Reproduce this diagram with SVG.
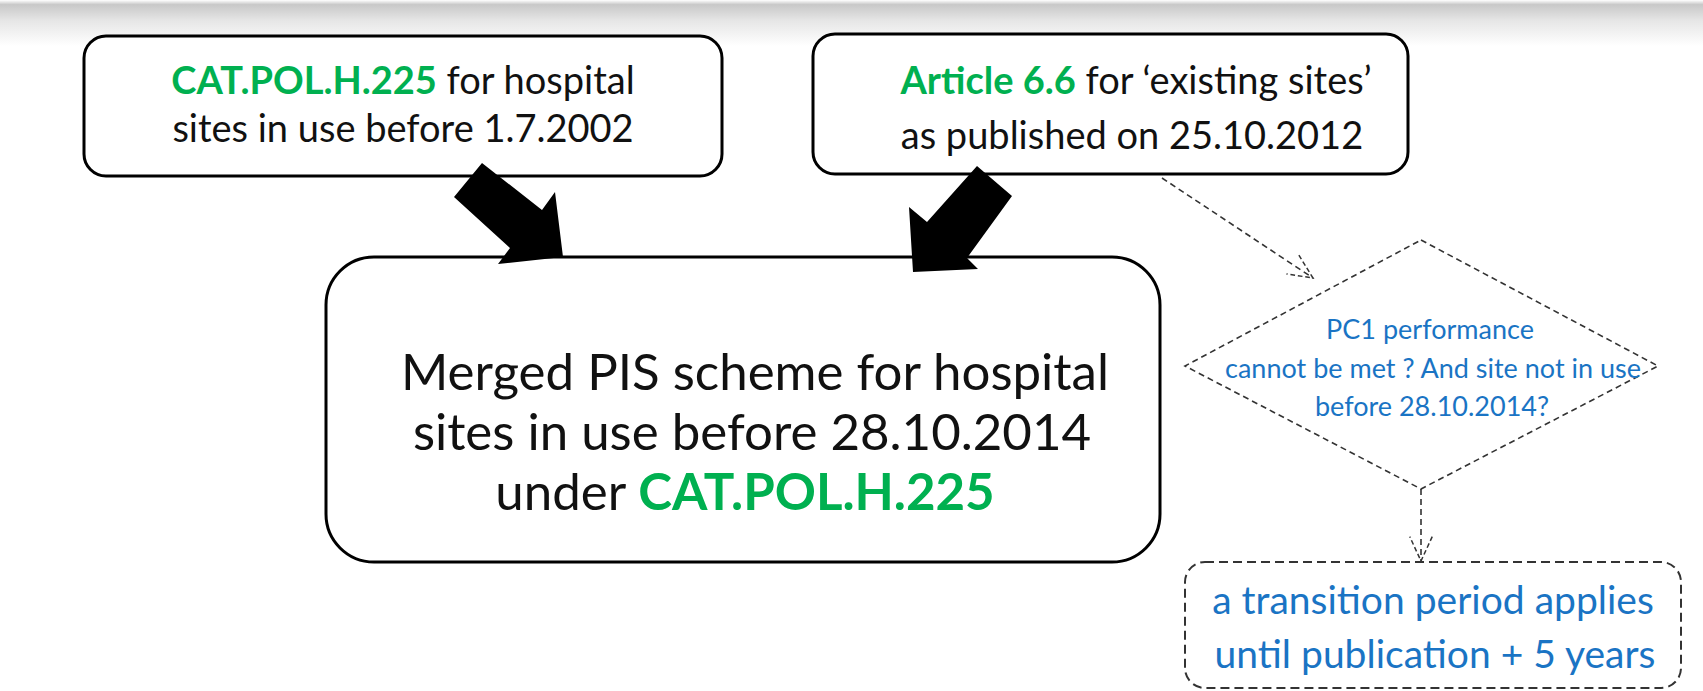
<svg xmlns="http://www.w3.org/2000/svg" width="1703" height="691" viewBox="0 0 1703 691">
<defs>
<linearGradient id="topband" x1="0" y1="0" x2="0" y2="1">
<stop offset="0" stop-color="#ffffff"/>
<stop offset="0.1" stop-color="#c8c8c8"/>
<stop offset="0.45" stop-color="#e6e6e6"/>
<stop offset="1" stop-color="#ffffff"/>
</linearGradient>
<marker id="openV" markerWidth="30" markerHeight="30" refX="0" refY="0" viewBox="-30 -15 32 30" orient="auto" markerUnits="userSpaceOnUse">
<path d="M-26,-12 L0,0 L-26,12" fill="none" stroke="#333" stroke-width="1.6" stroke-dasharray="5,3"/>
</marker>
<style>
.box{fill:#ffffff;stroke:#000;stroke-width:3}
.txt{font-family:Lato,'Open Sans',sans-serif;fill:#111;text-anchor:middle}
.g{fill:#00b050;font-weight:bold}
.blue{font-family:Lato,'Open Sans',sans-serif;fill:#1a74c4;text-anchor:middle}
.dash{fill:none;stroke:#333;stroke-width:1.6;stroke-dasharray:6,4}
.dashbox{fill:#ffffff;stroke:#333;stroke-width:2;stroke-dasharray:9,5}
.bigarrow{fill:#000}
</style>
</defs>
<rect x="0" y="0" width="1703" height="691" fill="#ffffff"/>
<rect x="0" y="0" width="1703" height="46" fill="url(#topband)"/>

<g id="node-cat">
<rect class="box" x="84" y="36" width="638" height="140" rx="22"/>
<text class="txt" x="403" y="94" font-size="38"><tspan class="g">CAT.POL.H.225</tspan> for hospital</text>
<text class="txt" x="403" y="142" font-size="38">sites in use before 1.7.2002</text>
</g>

<g id="node-article">
<rect class="box" x="813" y="34" width="595" height="140" rx="22"/>
<text class="txt" x="1136" y="94" font-size="38"><tspan class="g">Article 6.6</tspan> for ‘existing sites’</text>
<text class="txt" x="1132" y="149" font-size="38">as published on 25.10.2012</text>
</g>

<g id="node-merged">
<rect class="box" x="326" y="257" width="834" height="305" rx="48"/>
<text class="txt" x="755" y="390" font-size="51">Merged PIS scheme for hospital</text>
<text class="txt" x="752" y="450" font-size="51">sites in use before 28.10.2014</text>
<text class="txt" x="745" y="510" font-size="51">under <tspan class="g">CAT.POL.H.225</tspan></text>
</g>

<g id="node-decision">
<polygon class="dash" points="1421,240 1658,366 1421,489 1185,366"/>
<text class="blue" x="1430" y="339" font-size="27">PC1 performance</text>
<text class="blue" x="1433" y="378" font-size="27">cannot be met ? And site not in use</text>
<text class="blue" x="1432" y="416" font-size="27">before 28.10.2014?</text>
</g>

<g id="node-transition">
<rect class="dashbox" x="1185" y="562" width="496" height="126" rx="20"/>
<text class="blue" x="1433" y="614" font-size="39">a transition period applies</text>
<text class="blue" x="1435" y="668" font-size="39">until publication + 5 years</text>
</g>

<g id="connectors">
<polygon class="bigarrow" points="482,163 454,197 510,248 498,264 563,257 555,192 542,210"/>
<polygon class="bigarrow" points="977,166 1012,196 967,258 978,269 913,272 909,207 927,222"/>
<line class="dash" x1="1162" y1="178" x2="1313" y2="278" marker-end="url(#openV)"/>
<line class="dash" x1="1421" y1="489" x2="1421" y2="561" marker-end="url(#openV)"/>
</g>
</svg>
